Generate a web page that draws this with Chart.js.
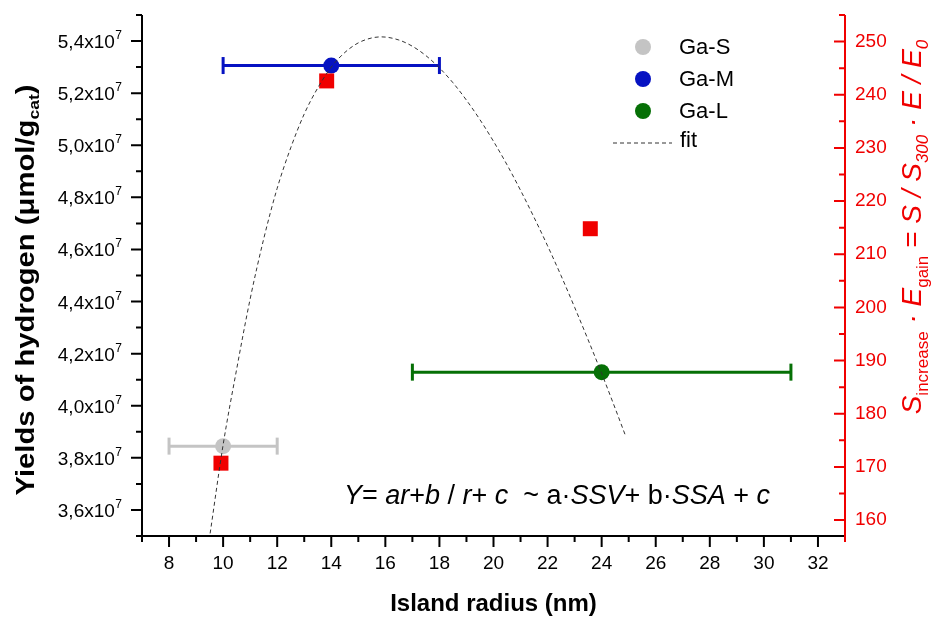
<!DOCTYPE html>
<html>
<head>
<meta charset="utf-8">
<script src="https://cdn.jsdelivr.net/npm/chart.js@4.4.0/dist/chart.umd.min.js"></script>
<style>
  html, body { margin: 0; padding: 0; background: #fff; }
</style>
</head>
<body>
<canvas id="chart" width="939" height="617"></canvas>
<script>
// samples (left axis)
var samples = ['Ga-S', 'Ga-M', 'Ga-L'];
var radius = [10, 14, 24];
var radiusLow = [8, 10, 17];
var radiusHigh = [12, 18, 31];
var yieldH2 = [3.845e7, 5.306e7, 4.129e7];
var sampleColors = ['#c4c4c4', '#0612c2', '#067006'];

// red squares (right axis)
var gainRadius = [9.92, 13.83, 23.58];
var gainValue = [170.7, 242.6, 214.8];

// fit curve
var fitRadius = [9.52, 10, 10.5, 11, 11.5, 12, 12.5, 13, 13.5, 14, 14.5, 15, 15.5, 15.86, 16.5, 17, 17.5, 18, 18.5, 19, 19.5, 20, 20.5, 21, 21.5, 22, 22.5, 23, 23.5, 24, 24.5, 24.9];
var fitYield = [3.51e7, 3.85e7, 4.14e7, 4.41e7, 4.64e7, 4.835e7, 4.99e7, 5.12e7, 5.22e7, 5.30e7, 5.356e7, 5.393e7, 5.412e7, 5.416e7, 5.404e7, 5.38e7, 5.344e7, 5.297e7, 5.24e7, 5.173e7, 5.098e7, 5.015e7, 4.925e7, 4.827e7, 4.723e7, 4.614e7, 4.499e7, 4.378e7, 4.253e7, 4.124e7, 3.99e7, 3.88e7];

// ticks
var xTicks = [8, 10, 12, 14, 16, 18, 20, 22, 24, 26, 28, 30, 32];
var xMinorTicks = [7, 9, 11, 13, 15, 17, 19, 21, 23, 25, 27, 29, 31, 33];
var yTicks = [3.6e7, 3.8e7, 4.0e7, 4.2e7, 4.4e7, 4.6e7, 4.8e7, 5.0e7, 5.2e7, 5.4e7];
var yMinorTicks = [3.5e7, 3.7e7, 3.9e7, 4.1e7, 4.3e7, 4.5e7, 4.7e7, 4.9e7, 5.1e7, 5.3e7, 5.5e7];
var y2Ticks = [160, 170, 180, 190, 200, 210, 220, 230, 240, 250];
var y2MinorTicks = [165, 175, 185, 195, 205, 215, 225, 235, 245, 255];

var FONT = "'Liberation Sans', Arial, Helvetica, sans-serif";
var RED = '#f00000';

var datasets = [];
// 0: fit line (drawn on top)
datasets.push({
  type: 'line',
  label: 'fit',
  data: fitRadius.map((r, i) => ({ x: r, y: fitYield[i] })),
  borderColor: '#333',
  borderWidth: 1,
  borderDash: [4, 3],
  pointRadius: 0,
  fill: false,
  cubicInterpolationMode: 'monotone',
  yAxisID: 'y',
  inLegend: true
});
// 1: red squares
datasets.push({
  type: 'scatter',
  label: 'gain',
  data: gainRadius.map((r, i) => ({ x: r, y: gainValue[i] })),
  pointStyle: 'rect',
  pointRadius: 10.6,
  backgroundColor: RED,
  borderWidth: 0,
  yAxisID: 'y2'
});
// 2-4: sample points
for (var i = 0; i < samples.length; i++) {
  datasets.push({
    type: 'scatter',
    label: samples[i],
    data: [{ x: radius[i], y: yieldH2[i] }],
    pointRadius: 8,
    backgroundColor: sampleColors[i],
    borderWidth: 0,
    yAxisID: 'y',
    inLegend: true
  });
}
// 5-7: horizontal error bars
for (var i = 0; i < samples.length; i++) {
  datasets.push({
    type: 'line',
    label: samples[i] + ' err',
    data: [{ x: radiusLow[i], y: yieldH2[i] }, { x: radiusHigh[i], y: yieldH2[i] }],
    borderColor: sampleColors[i],
    borderWidth: 3,
    pointStyle: 'line',
    pointRotation: 90,
    pointRadius: 8.5,
    pointBorderWidth: 3,
    pointBorderColor: sampleColors[i],
    fill: false,
    yAxisID: 'y'
  });
}

function drawRich(ctx, pieces, x, y) {
  var total = 0;
  pieces.forEach(p => { ctx.font = p.font; p.w = ctx.measureText(p.t).width; total += p.w; });
  var cx = x - total / 2;
  pieces.forEach(p => {
    ctx.font = p.font;
    ctx.fillText(p.t, cx, y + (p.dy || 0));
    cx += p.w;
  });
}

var axesPlugin = {
  id: 'axes',
  afterDraw(chart) {
    var ctx = chart.ctx;
    var a = chart.chartArea;
    var sx = chart.scales.x, sy = chart.scales.y, sy2 = chart.scales.y2;
    ctx.save();
    ctx.lineWidth = 2;
    ctx.strokeStyle = '#000';
    ctx.beginPath();
    ctx.moveTo(a.left - 6, a.bottom); ctx.lineTo(a.right, a.bottom);
    ctx.moveTo(a.left, a.top); ctx.lineTo(a.left, a.bottom);
    xTicks.forEach(v => { var px = sx.getPixelForValue(v); ctx.moveTo(px, a.bottom); ctx.lineTo(px, a.bottom + 11); });
    xMinorTicks.forEach(v => { var px = sx.getPixelForValue(v); ctx.moveTo(px, a.bottom); ctx.lineTo(px, a.bottom + 6); });
    yTicks.forEach(v => { var py = sy.getPixelForValue(v); ctx.moveTo(a.left, py); ctx.lineTo(a.left - 11, py); });
    yMinorTicks.forEach(v => { var py = sy.getPixelForValue(v); ctx.moveTo(a.left, py); ctx.lineTo(a.left - 6, py); });
    ctx.stroke();

    ctx.strokeStyle = RED;
    ctx.beginPath();
    ctx.moveTo(a.right, a.top); ctx.lineTo(a.right, a.bottom + 6);
    y2Ticks.forEach(v => { var py = sy2.getPixelForValue(v); ctx.moveTo(a.right, py); ctx.lineTo(a.right - 11, py); });
    y2MinorTicks.forEach(v => { var py = sy2.getPixelForValue(v); ctx.moveTo(a.right, py); ctx.lineTo(a.right - 6, py); });
    ctx.stroke();

    // left tick labels with superscript exponent
    ctx.fillStyle = '#000';
    ctx.textBaseline = 'alphabetic';
    ctx.textAlign = 'left';
    yTicks.forEach(v => {
      var py = sy.getPixelForValue(v);
      var main = (v / 1e7).toFixed(1).replace('.', ',') + 'x10';
      ctx.font = '12px ' + FONT;
      var sw = ctx.measureText('7').width;
      var xe = a.left - 20;
      ctx.fillText('7', xe - sw, py - 2);
      ctx.font = '19px ' + FONT;
      var mw = ctx.measureText(main).width;
      ctx.fillText(main, xe - sw - mw - 0.5, py + 7);
    });

    // axis titles
    drawRich(ctx, [{ t: 'Island radius (nm)', font: 'bold 24px ' + FONT }], (a.left + a.right) / 2, 611);

    // left title, a little stretched along its length like the original
    ctx.save();
    ctx.translate(34, 290);
    ctx.rotate(-Math.PI / 2);
    ctx.scale(1.17, 1);
    drawRich(ctx, [
      { t: 'Yields of hydrogen (\u03bcmol/g', font: 'bold 25px ' + FONT },
      { t: 'cat', font: 'bold 15px ' + FONT, dy: 5 },
      { t: ')', font: 'bold 25px ' + FONT }
    ], 0, 0);
    ctx.restore();

    ctx.save();
    ctx.fillStyle = RED;
    ctx.translate(921, 227);
    ctx.rotate(-Math.PI / 2);
    var m = 'italic 28px ' + FONT, s = '17px ' + FONT, si = 'italic 17px ' + FONT;
    drawRich(ctx, [
      { t: 'S', font: m }, { t: 'increase', font: s, dy: 7 },
      { t: ' \u00b7 ', font: m }, { t: 'E', font: m }, { t: 'gain', font: s, dy: 7 },
      { t: ' = S / S', font: m }, { t: '300', font: si, dy: 7 },
      { t: ' \u00b7 E / E', font: m }, { t: '0', font: si, dy: 7 }
    ], 0, 0);
    ctx.restore();

    // equation
    var n = '27px ' + FONT, it = 'italic 27px ' + FONT;
    drawRich(ctx, [
      { t: 'Y', font: it }, { t: '= ', font: n }, { t: 'ar', font: it }, { t: '+', font: n },
      { t: 'b', font: it }, { t: ' / ', font: n }, { t: 'r', font: it }, { t: '+ ', font: n },
      { t: 'c', font: it }, { t: '  ~ a\u00b7', font: n }, { t: 'SSV', font: it },
      { t: '+ b\u00b7', font: n }, { t: 'SSA', font: it }, { t: ' + ', font: n }, { t: 'c', font: it }
    ], 557, 504);

    // legend
    var rows = chart.data.datasets.filter(d => d.inLegend && d.type === 'scatter');
    ctx.font = '22px ' + FONT;
    ctx.textBaseline = 'middle';
    rows.forEach((d, k) => {
      var ly = 47 + k * 32;
      ctx.fillStyle = d.backgroundColor;
      ctx.beginPath(); ctx.arc(643, ly, 8, 0, Math.PI * 2); ctx.fill();
      ctx.fillStyle = '#000';
      ctx.fillText(d.label, 679, ly + 1);
    });
    var fit = chart.data.datasets[0];
    var fy = 47 + rows.length * 32;
    ctx.strokeStyle = fit.borderColor;
    ctx.lineWidth = 1;
    ctx.setLineDash(fit.borderDash);
    ctx.beginPath(); ctx.moveTo(613, fy); ctx.lineTo(672, fy); ctx.stroke();
    ctx.setLineDash([]);
    ctx.fillText(fit.label, 680, fy - 2);
    ctx.restore();
  }
};

function setTicks(list) {
  return function (scale) { scale.ticks = list.map(v => ({ value: v })); };
}
function noPad(s) {
  s.paddingTop = 0; s.paddingBottom = 0; s.paddingLeft = 0; s.paddingRight = 0;
}

new Chart(document.getElementById('chart'), {
  type: 'scatter',
  data: { datasets: datasets },
  options: {
    responsive: false,
    devicePixelRatio: 1,
    animation: false,
    events: [],
    layout: { padding: { top: 15, left: 0, right: 0, bottom: 0 } },
    plugins: { legend: { display: false }, tooltip: { enabled: false } },
    scales: {
      x: {
        type: 'linear', min: 7, max: 33,
        afterBuildTicks: setTicks(xTicks),
        afterFit: function (s) { s.height = 81; noPad(s); },
        grid: { display: false, drawTicks: false },
        border: { display: false },
        ticks: { color: '#000', padding: 16, font: { family: FONT, size: 19 } }
      },
      y: {
        type: 'linear', position: 'left', min: 3.5e7, max: 5.5e7,
        afterBuildTicks: setTicks(yTicks),
        afterFit: function (s) { s.width = 142; noPad(s); },
        grid: { display: false, drawTicks: false },
        border: { display: false },
        ticks: { display: false }
      },
      y2: {
        type: 'linear', position: 'right', min: 157, max: 255,
        afterBuildTicks: setTicks(y2Ticks),
        afterFit: function (s) { s.width = 94; noPad(s); },
        grid: { display: false, drawTicks: false },
        border: { display: false },
        ticks: { color: RED, padding: 10, font: { family: FONT, size: 19 } }
      }
    }
  },
  plugins: [axesPlugin]
});
</script>
</body>
</html>
